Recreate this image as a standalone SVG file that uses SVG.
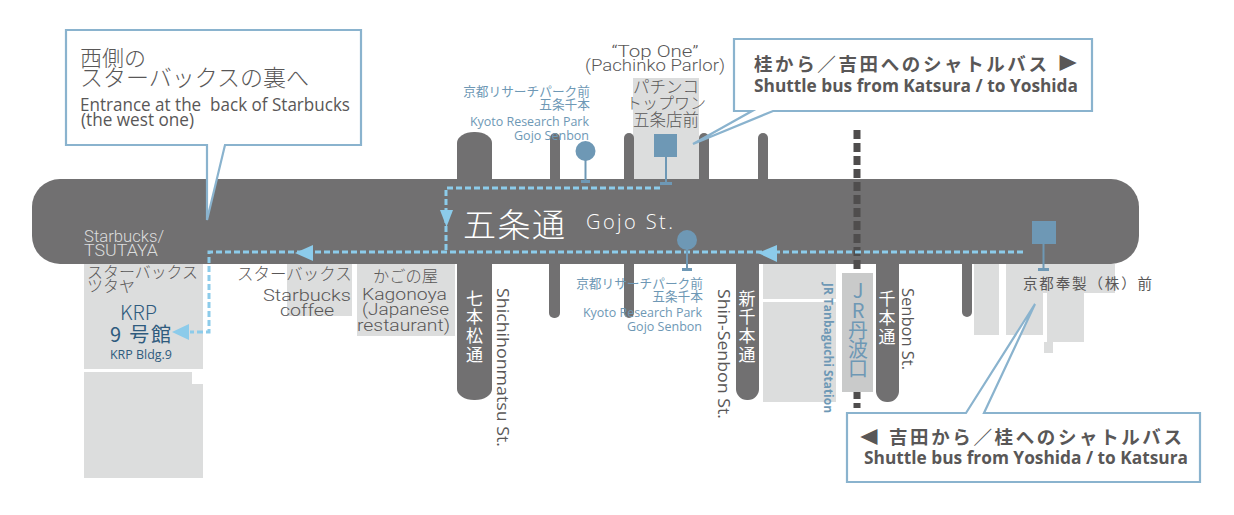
<svg xmlns="http://www.w3.org/2000/svg" width="1234" height="515" viewBox="0 0 1234 515">
<style>
text{font-family:"Noto Sans CJK JP","Noto Sans",sans-serif;fill:#595757;font-weight:300}
.lat{font-family:"Open Sans","Noto Sans",sans-serif;font-weight:400}
.wide{font-family:"Roboto","Liberation Sans","Noto Sans CJK JP",sans-serif;font-size:16px;font-weight:300}
.w{fill:#fff}
text.b{fill:#6e98b5;font-weight:400}
.k{fill:#2f5b7e}
.bld{fill:#dcdddd}
.road{fill:#717071}
.stop{fill:#6e98b5}
.stem{stroke:#6e98b5;stroke-width:2;fill:none}
.call{fill:#fff;stroke:#8ab3ce;stroke-width:2.200}
.dash{fill:none;stroke:#8ccbea;stroke-width:3;stroke-dasharray:6 3}
.arr{fill:#8ccbea}
.m{text-anchor:middle}
.e{text-anchor:end}
text.bold{font-weight:700}
text.v{font-weight:400}
</style>
<g id="buildings">
<rect class="bld" x="84" y="264" width="119" height="105"/>
<path class="bld" d="M84 372H192V384H203V478H84Z"/>
<rect class="bld" x="287" y="264" width="65" height="52"/>
<rect class="bld" x="357" y="264" width="98" height="72"/>
<rect class="bld" x="633" y="78" width="66" height="102"/>
<rect class="bld" x="763" y="264" width="73" height="35"/>
<rect class="bld" x="763" y="302" width="73" height="100"/>
<rect class="bld" x="974" y="264" width="25" height="71"/>
<rect class="bld" x="1006" y="264" width="37" height="71"/>
<path class="bld" d="M1035 264H1115V293H1084V342H1053V353H1044V342H1047V293H1035Z"/>
</g>
<g id="roads">
<rect class="road" x="457" y="132" width="35" height="60" rx="17" ry="11"/>
<rect class="road" x="550" y="133" width="10" height="60" rx="5"/>
<rect class="road" x="624" y="133" width="10" height="60" rx="5"/>
<rect class="road" x="699" y="133" width="10" height="60" rx="5"/>
<rect class="road" x="758" y="133" width="10" height="60" rx="5"/>
<rect class="road" x="457" y="250" width="35" height="150" rx="17" ry="11"/>
<rect class="road" x="549" y="250" width="11" height="68" rx="5"/>
<rect class="road" x="624" y="250" width="10" height="68" rx="5"/>
<rect class="road" x="736" y="250" width="23" height="150" rx="11"/>
<rect class="road" x="876" y="250" width="23" height="152" rx="11"/>
<rect class="road" x="962" y="250" width="10" height="67" rx="5"/>
<rect id="gojo" class="road" x="32" y="179" width="1107" height="85" rx="28"/>
</g>
<g id="railway">
<line x1="857" y1="130" x2="857" y2="408" stroke="#4f4d4d" stroke-width="7" stroke-dasharray="9 4"/>
<rect x="842" y="273" width="31" height="119" fill="#c9caca"/>
</g>
<g id="connectors">
<path class="dash" d="M660 188H446V252"/>
<path class="dash" d="M1023 252H209V332H190"/>
<polygon class="arr" points="440,210 453,210 446.500,227"/>
<polygon class="arr" points="295,253 313,245 313,261"/>
<polygon class="arr" points="758,253 777,245 777,262"/>
<polygon class="arr" points="172,332 189,324 189,340"/>
</g>
<g id="stop-krp-north">
<line class="stem" x1="585.500" y1="155" x2="585.500" y2="181"/>
<rect class="stop" x="581" y="180" width="9" height="3"/>
<circle class="stop" cx="585.500" cy="151" r="10"/>
</g>
<g id="stop-pachinko">
<line class="stem" x1="666" y1="155" x2="666" y2="183"/>
<rect class="stop" x="660" y="182" width="12" height="3"/>
<rect class="stop" x="654" y="134" width="23" height="23"/>
</g>
<g id="stop-krp-south">
<line class="stem" x1="687" y1="245" x2="687" y2="269"/>
<rect class="stop" x="682" y="268" width="10" height="3"/>
<circle class="stop" cx="687" cy="240" r="10"/>
</g>
<g id="stop-hosei">
<line class="stem" x1="1043.500" y1="243" x2="1043.500" y2="269"/>
<rect class="stop" x="1038" y="268" width="11" height="3"/>
<rect class="stop" x="1032" y="221" width="24" height="23"/>
</g>
<g id="callout-west">
<path class="call" d="M66 30H361V145H225L207 220V145H66Z"/>
<text x="80" y="66" font-size="22">西側の</text>
<text x="80" y="86" font-size="23">スターバックスの裏へ</text>
<text class="lat" x="80" y="111" font-size="18.500" textLength="270" lengthAdjust="spacingAndGlyphs" xml:space="preserve">Entrance at the  back of Starbucks</text>
<text class="lat" x="81" y="126" font-size="18.500" textLength="113" lengthAdjust="spacingAndGlyphs">(the west one)</text>
</g>
<g id="callout-katsura">
<path class="call" d="M734 39H1092V111H773L693 144L752 111H734Z"/>
<text class="bold" x="754" y="71" font-size="18.500" textLength="293" lengthAdjust="spacing">桂から／吉田へのシャトルバス</text>
<text class="bold" x="1057" y="69" font-size="17" textLength="21" lengthAdjust="spacingAndGlyphs">▶</text>
<text class="lat bold" x="754" y="92" font-size="18" textLength="324" lengthAdjust="spacingAndGlyphs">Shuttle bus from Katsura / to Yoshida</text>
</g>
<g id="callout-yoshida">
<path class="call" d="M847 413H966L1035 304L984 413H1200V482H847Z"/>
<text class="bold" x="859" y="443" font-size="17" textLength="21" lengthAdjust="spacingAndGlyphs">◀</text>
<text class="bold" x="889" y="444" font-size="18.500" textLength="293" lengthAdjust="spacing">吉田から／桂へのシャトルバス</text>
<text class="lat bold" x="864" y="464" font-size="18" textLength="324" lengthAdjust="spacingAndGlyphs">Shuttle bus from Yoshida / to Katsura</text>
</g>
<g id="labels-road">
<text class="w" x="463" y="237" font-size="33" textLength="102" lengthAdjust="spacing">五条通</text>
<text class="lat w" x="586" y="229" font-size="20" textLength="87" lengthAdjust="spacing" style="font-weight:300">Gojo St.</text>
<text class="wide" style="fill:#dcdddd" x="84" y="242" textLength="80" lengthAdjust="spacingAndGlyphs">Starbucks/</text>
<text class="wide" style="fill:#dcdddd" x="84" y="256" textLength="74" lengthAdjust="spacingAndGlyphs">TSUTAYA</text>
</g>
<g id="label-top-one">
<text class="wide" x="655" y="57" textLength="87" lengthAdjust="spacingAndGlyphs" text-anchor="middle">“Top One”</text>
<text class="wide" x="585" y="71" textLength="140" lengthAdjust="spacingAndGlyphs">(Pachinko Parlor)</text>
<text class="m" x="666" y="93" font-size="16.500">パチンコ</text>
<text class="m" x="666" y="109" font-size="16">トップワン</text>
<text class="m" x="666" y="126" font-size="16.500">五条店前</text>
</g>
<g id="label-stop-north">
<text class="b e" x="590" y="96" font-size="12.700">京都リサーチパーク前</text>
<text class="b e" x="590" y="109" font-size="12.700">五条千本</text>
<text class="lat b e" x="589" y="126" font-size="12.500" textLength="119" lengthAdjust="spacingAndGlyphs">Kyoto Research Park</text>
<text class="lat b e" x="589" y="140" font-size="12.500" textLength="75" lengthAdjust="spacingAndGlyphs">Gojo Senbon</text>
</g>
<g id="label-stop-south">
<text class="b e" x="703" y="288" font-size="12.700">京都リサーチパーク前</text>
<text class="b e" x="703" y="301" font-size="12.700">五条千本</text>
<text class="lat b e" x="702" y="317" font-size="12.500" textLength="119" lengthAdjust="spacingAndGlyphs">Kyoto Research Park</text>
<text class="lat b e" x="702" y="331" font-size="12.500" textLength="75" lengthAdjust="spacingAndGlyphs">Gojo Senbon</text>
</g>
<g id="label-krp">
<text x="87" y="278" font-size="16" textLength="111" lengthAdjust="spacingAndGlyphs">スターバックス</text>
<text x="87" y="292" font-size="16">ツタヤ</text>
<text class="k" x="120" y="320" font-size="20" textLength="37" lengthAdjust="spacingAndGlyphs">KRP</text>
<text class="k v" x="110" y="342" font-size="20" textLength="61" lengthAdjust="spacing" xml:space="preserve">9 号館</text>
<text class="lat k" x="110" y="359" font-size="13" textLength="62" lengthAdjust="spacingAndGlyphs">KRP Bldg.9</text>
</g>
<g id="label-starbucks">
<text x="237" y="280" font-size="16.500">スターバックス</text>
<text class="wide" x="263" y="301" textLength="88" lengthAdjust="spacingAndGlyphs">Starbucks</text>
<text class="wide" x="280" y="316" textLength="54" lengthAdjust="spacingAndGlyphs">coffee</text>
</g>
<g id="label-kagonoya">
<text x="373" y="282" font-size="16.250">かごの屋</text>
<text class="wide" x="362" y="300" textLength="85" lengthAdjust="spacingAndGlyphs">Kagonoya</text>
<text class="wide" x="362" y="315" textLength="87" lengthAdjust="spacingAndGlyphs">(Japanese</text>
<text class="wide" x="357" y="331" textLength="93" lengthAdjust="spacingAndGlyphs">restaurant)</text>
</g>
<g id="labels-streets">
<text class="w m v" x="474.500 474.500 474.500 474.500" y="305 323 342 361" font-size="17">七本松通</text>
<text class="lat" transform="translate(497 288) rotate(90)" font-size="16.500" textLength="159" lengthAdjust="spacingAndGlyphs">Shichihonmatsu St.</text>
<text class="w m v" x="747 747 747 747" y="305 323 342 361" font-size="17">新千本通</text>
<text class="lat" transform="translate(718 289) rotate(90)" font-size="16.500" textLength="130" lengthAdjust="spacingAndGlyphs">Shin-Senbon St.</text>
<text class="w m v" x="887 887 887" y="305 324 343" font-size="17">千本通</text>
<text class="lat" transform="translate(902 288) rotate(90)" font-size="16.500" textLength="82" lengthAdjust="spacingAndGlyphs">Senbon St.</text>
<text class="lat b bold" transform="translate(824 283) rotate(90)" font-size="12" textLength="130" lengthAdjust="spacingAndGlyphs" style="font-weight:700">JR Tanbaguchi Station</text>
<text class="b m" x="858 858 858 858 858" y="298 318 338 357 376" font-size="20">JR丹波口</text>
<text class="v" x="1023" y="289" font-size="14.500" textLength="129" lengthAdjust="spacing">京都奉製（株）前</text>
</g>
</svg>
